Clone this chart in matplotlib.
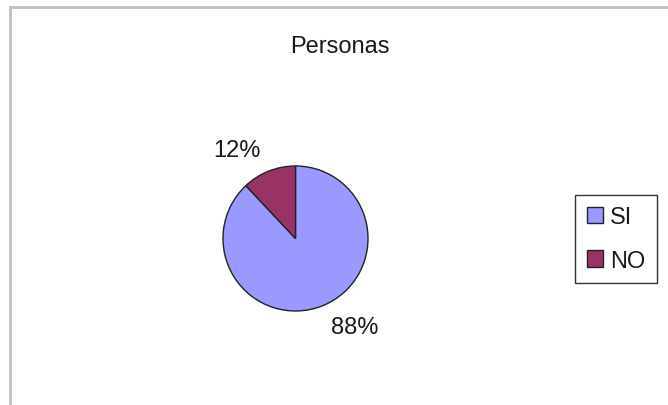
import matplotlib
matplotlib.use('Agg')
from matplotlib import pyplot as plt
from matplotlib.lines import Line2D

# data
categories = ['SI', 'NO']
values = [88, 12]
colors = ['#9999FF', '#993366']
title = 'Personas'

plt.rcParams['font.family'] = ['Liberation Sans', 'DejaVu Sans']
fs = 17

W, H = 668, 406
fig = plt.figure(figsize=(W / 100, H / 100), dpi=100)

# pie axes: center (295.5, 239.5) px, radius 72.5 px -> square of +-2 units
r_px = 72.5
half = 2 * r_px
cx, cy = 295.5, H - 239.5
ax = fig.add_axes([(cx - half) / W, (cy - half) / H, 2 * half / W, 2 * half / H])

wedges, texts = ax.pie(
    values,
    colors=colors,
    labels=[f'{v}%' for v in values],
    labeldistance=1.32,
    startangle=90,
    counterclock=False,
    wedgeprops=dict(edgecolor='#222222', linewidth=1.0),
    textprops=dict(fontsize=fs, color='#1a1a1a'),
)
ax.set_xlim(-2, 2)
ax.set_ylim(-2, 2)

fig.text(340 / W, 1 - 47 / H, title, ha='center', va='center',
         fontsize=fs, color='#1a1a1a')

leg = fig.legend(
    wedges, categories,
    loc='center',
    bbox_to_anchor=(616 / W, 1 - 240 / H),
    fontsize=fs,
    frameon=True,
    fancybox=False,
    edgecolor='black',
    handlelength=0.7,
    handleheight=0.7,
    handletextpad=0.3,
    borderpad=0.5,
    labelspacing=0.9,
    borderaxespad=0,
)
leg.get_frame().set_linewidth(1.0)
for t in leg.get_texts():
    t.set_color('#1a1a1a')

# chart area border (top and left)
fig.add_artist(Line2D([10 / W, 1], [1 - 8 / H, 1 - 8 / H], color='#c0c0c0', linewidth=2))
fig.add_artist(Line2D([10 / W, 10 / W], [0, 1 - 8 / H], color='#c0c0c0', linewidth=2))

plt.savefig('out.png', dpi=100)
